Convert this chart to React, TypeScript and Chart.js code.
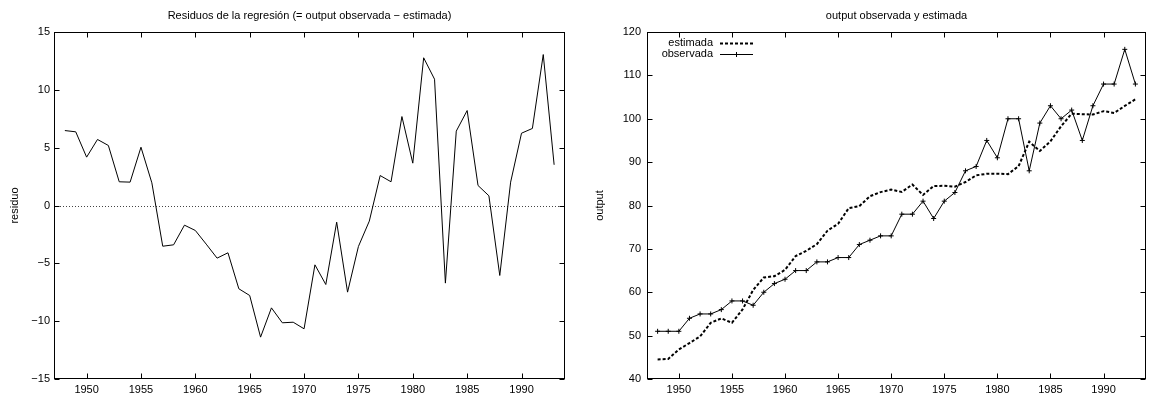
import React, { useEffect, useRef } from "react";
import { Chart, registerables } from "chart.js";

Chart.register(...registerables);

const years = [
  1948, 1949, 1950, 1951, 1952, 1953, 1954, 1955, 1956, 1957, 1958, 1959,
  1960, 1961, 1962, 1963, 1964, 1965, 1966, 1967, 1968, 1969, 1970, 1971,
  1972, 1973, 1974, 1975, 1976, 1977, 1978, 1979, 1980, 1981, 1982, 1983,
  1984, 1985, 1986, 1987, 1988, 1989, 1990, 1991, 1992, 1993,
];

const residuals = [
  6.48, 6.37, 4.18, 5.71, 5.19, 2.05, 2.02, 5.04, 1.96, -3.52, -3.4, -1.7,
  -2.16, -3.34, -4.55, -4.09, -7.2, -7.78, -11.38, -8.85, -10.14, -10.09,
  -10.66, -5.13, -6.83, -1.44, -7.49, -3.54, -1.35, 2.59, 2.05, 7.69, 3.66,
  12.77, 10.92, -6.71, 6.43, 8.21, 1.73, 0.84, -6.05, 2.02, 6.25, 6.66,
  13.05, 3.52,
];

const observed = [
  51, 51, 51, 54, 55, 55, 56, 58, 58, 57, 60, 62, 63, 65, 65, 67, 67, 68, 68,
  71, 72, 73, 73, 78, 78, 81, 77, 81, 83, 88, 89, 95, 91, 100, 100, 88, 99,
  103, 100, 102, 95, 103, 108, 108, 116, 108,
];

const estimated = [
  44.52, 44.63, 46.82, 48.29, 49.81, 52.95, 53.98, 52.96, 56.04, 60.52, 63.4,
  63.7, 65.16, 68.34, 69.55, 71.09, 74.2, 75.78, 79.38, 79.85, 82.14, 83.09,
  83.66, 83.13, 84.83, 82.44, 84.49, 84.54, 84.35, 85.41, 86.95, 87.31, 87.34,
  87.23, 89.08, 94.71, 92.57, 94.79, 98.27, 101.16, 101.05, 100.98, 101.75,
  101.34, 102.95, 104.48,
];

const yearTicks = [1950, 1955, 1960, 1965, 1970, 1975, 1980, 1985, 1990];
const residualTicks = [-15, -10, -5, 0, 5, 10, 15];
const outputTicks = [40, 50, 60, 70, 80, 90, 100, 110, 120];

const leftTitle = "Residuos de la regresión (= output observada − estimada)";
const rightTitle = "output observada y estimada";
const leftYLabel = "residuo";
const rightYLabel = "output";
const labelEstimated = "estimada";
const labelObserved = "observada";

const FONT = "'Liberation Sans', Arial, Helvetica, sans-serif";
Chart.defaults.font.family = FONT;
Chart.defaults.font.size = 11;
Chart.defaults.color = "#000";

const fmt = (v: number) => (v < 0 ? "−" + String(Math.abs(v)) : String(v));

const gnuFrame = {
  id: "gnuFrame",
  beforeDatasetsDraw(chart: any, _args: any, opts: any) {
    if (!opts || !opts.zeroLine) return;
    const { ctx, chartArea: a, scales } = chart;
    const y = Math.round(scales.y.getPixelForValue(0)) + 0.5;
    ctx.save();
    ctx.strokeStyle = "#444";
    ctx.lineWidth = 1;
    ctx.setLineDash([1, 2]);
    ctx.beginPath();
    ctx.moveTo(a.left, y);
    ctx.lineTo(a.right, y);
    ctx.stroke();
    ctx.restore();
  },
  afterDraw(chart: any, _args: any, opts: any) {
    const { ctx, chartArea: a, scales } = chart;
    const L = Math.round(a.left) + 0.5;
    const R = Math.round(a.right) - 0.5;
    const T = Math.round(a.top) + 0.5;
    const B = Math.round(a.bottom) - 0.5;
    const tl = 5;
    ctx.save();
    ctx.strokeStyle = "#000";
    ctx.lineWidth = 1;
    ctx.setLineDash([]);
    ctx.beginPath();
    for (const t of scales.x.ticks) {
      const px = Math.round(scales.x.getPixelForValue(t.value)) + 0.5;
      ctx.moveTo(px, T);
      ctx.lineTo(px, T + tl);
      ctx.moveTo(px, B);
      ctx.lineTo(px, B - tl);
    }
    for (const t of scales.y.ticks) {
      const py = Math.round(scales.y.getPixelForValue(t.value)) + 0.5;
      ctx.moveTo(L, py);
      ctx.lineTo(L + tl, py);
      ctx.moveTo(R, py);
      ctx.lineTo(R - tl, py);
    }
    ctx.stroke();
    ctx.strokeRect(L, T, R - L, B - T);

    // title centred on the plot area
    if (opts && opts.title) {
      ctx.font = "11px " + FONT;
      ctx.fillStyle = "#000";
      ctx.textAlign = "center";
      ctx.textBaseline = "alphabetic";
      ctx.fillText(opts.title, (a.left + a.right) / 2, 18.5);
    }

    if (opts && opts.key) {
      ctx.font = "11px " + FONT;
      ctx.fillStyle = "#000";
      ctx.textAlign = "right";
      ctx.textBaseline = "middle";
      const ds = chart.data.datasets;
      ds.forEach((d: any, i: number) => {
        const y = a.top + 10.7 + i * 11.3;
        ctx.fillText(d.label, a.left + 66, y);
        ctx.save();
        ctx.strokeStyle = d.borderColor;
        ctx.lineWidth = d.borderWidth;
        ctx.setLineDash(d.borderDash || []);
        ctx.beginPath();
        ctx.moveTo(a.left + 73, Math.round(y) + 0.5);
        ctx.lineTo(a.left + 106, Math.round(y) + 0.5);
        ctx.stroke();
        if (d.pointRadius > 0) {
          const cx = a.left + 89.5;
          const cy = Math.round(y) + 0.5;
          const r = d.pointRadius;
          ctx.setLineDash([]);
          ctx.lineWidth = 1;
          ctx.beginPath();
          ctx.moveTo(cx - r, cy);
          ctx.lineTo(cx + r, cy);
          ctx.moveTo(cx, cy - r);
          ctx.lineTo(cx, cy + r);
          ctx.stroke();
        }
        ctx.restore();
      });
    }
    ctx.restore();
  },
};

function makeX(xHeight: number) {
  return {
    type: "linear",
    min: 1947,
    max: 1994,
    afterBuildTicks: (s: any) => {
      s.ticks = yearTicks.map((v) => ({ value: v }));
    },
    afterFit: (s: any) => {
      s.height = xHeight;
    },
    grid: { display: false, drawTicks: false },
    border: { display: false },
    ticks: {
      color: "#000",
      padding: 4,
      maxRotation: 0,
      autoSkip: false,
      font: { size: 11 },
      callback: (v: any) => String(v),
    },
  };
}

function makeY(min: number, max: number, tickVals: number[], width: number, label: string, titlePad: number, tickPad: number) {
  return {
    type: "linear",
    min,
    max,
    afterBuildTicks: (s: any) => {
      s.ticks = tickVals.map((v) => ({ value: v }));
    },
    afterFit: (s: any) => {
      s.width = width;
    },
    grid: { display: false, drawTicks: false },
    border: { display: false },
    title: {
      display: true,
      text: label,
      color: "#000",
      font: { size: 11 },
      padding: { top: titlePad, bottom: 0 },
    },
    ticks: {
      color: "#000",
      padding: tickPad,
      font: { size: 11 },
      callback: (v: any) => fmt(v),
    },
  };
}

export default function App() {
  const leftRef = useRef<HTMLCanvasElement>(null);
  const rightRef = useRef<HTMLCanvasElement>(null);

  useEffect(() => {
    const left = new Chart(leftRef.current as HTMLCanvasElement, {
      type: "line",
      data: {
        datasets: [
          {
            label: leftYLabel,
            data: years.map((x, i) => ({ x, y: residuals[i] })),
            borderColor: "#000",
            borderWidth: 1,
            pointRadius: 0,
            tension: 0,
            fill: false,
          },
        ],
      },
      options: {
        animation: false,
        responsive: false,
        devicePixelRatio: 1,
        layout: { padding: { left: 0, right: 10, top: 32, bottom: 0 } },
        plugins: {
          legend: { display: false },
          tooltip: { enabled: false },
          title: { display: false },
          gnuFrame: { zeroLine: true, key: false, title: leftTitle },
        } as any,
        scales: {
          x: makeX(17),
          y: makeY(-15, 15, residualTicks, 54, leftYLabel, 8.4, 4),
        } as any,
      },
      plugins: [gnuFrame],
    } as any);

    const right = new Chart(rightRef.current as HTMLCanvasElement, {
      type: "line",
      data: {
        datasets: [
          {
            label: labelEstimated,
            data: years.map((x, i) => ({ x, y: estimated[i] })),
            borderColor: "#000",
            borderWidth: 2,
            borderDash: [3, 2],
            pointRadius: 0,
            tension: 0,
            fill: false,
          },
          {
            label: labelObserved,
            data: years.map((x, i) => ({ x, y: observed[i] })),
            borderColor: "#000",
            borderWidth: 1,
            pointStyle: "cross",
            pointRadius: 2.5,
            pointBorderWidth: 1,
            pointBorderColor: "#000",
            pointBackgroundColor: "#000",
            tension: 0,
            fill: false,
          },
        ],
      },
      options: {
        animation: false,
        responsive: false,
        devicePixelRatio: 1,
        layout: { padding: { left: 0, right: 1, top: 32, bottom: 0 } },
        plugins: {
          legend: { display: false },
          tooltip: { enabled: false },
          title: { display: false },
          gnuFrame: { zeroLine: false, key: true, title: rightTitle },
        } as any,
        scales: {
          x: makeX(17),
          y: makeY(40, 120, outputTicks, 72, rightYLabel, 18.4, 6),
        } as any,
      },
      plugins: [gnuFrame],
    } as any);

    return () => {
      left.destroy();
      right.destroy();
    };
  }, []);

  return (
    <div
      style={{
        position: "absolute",
        left: 0,
        top: 0,
        width: 1151,
        height: 396,
        background: "#fff",
        overflow: "hidden",
      }}
    >
      <canvas
        ref={leftRef}
        width={575}
        height={396}
        style={{ position: "absolute", left: 0, top: 0, width: 575, height: 396 }}
      />
      <canvas
        ref={rightRef}
        width={576}
        height={396}
        style={{ position: "absolute", left: 575, top: 0, width: 576, height: 396 }}
      />
    </div>
  );
}
